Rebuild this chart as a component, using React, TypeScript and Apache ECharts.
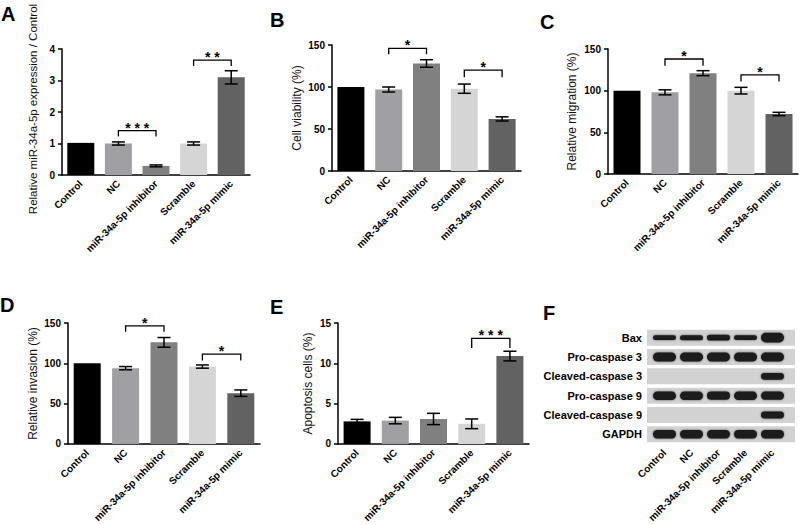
import React, { useEffect, useRef } from "react";
import * as echarts from "echarts";

const categories = ["Control", "NC", "miR-34a-5p inhibitor", "Scramble", "miR-34a-5p mimic"];
const barColors = ["#000000", "#a0a0a4", "#808080", "#d5d5d5", "#626262"];

const exprMean = [1.02, 1.0, 0.29, 1.0, 3.1];
const exprErr = [0, 0.05, 0.03, 0.05, 0.21];
const viabMean = [100, 97, 128, 98, 62];
const viabErr = [0, 3, 4.5, 5.5, 2.5];
const migrMean = [100, 98, 121, 100, 72];
const migrErr = [0, 3, 3, 4, 2];
const invMean = [100, 94, 126, 96, 63];
const invErr = [0, 2, 6, 2, 4];
const apopMean = [2.8, 2.9, 3.1, 2.5, 10.9];
const apopErr = [0.25, 0.4, 0.7, 0.6, 0.6];

// significance brackets: [fromIndex, toIndex, bracketTop, bracketEnd]
const exprSig = [[1, 2, 1.41, 1.22], [3, 4, 3.65, 3.46]];
const exprSigLabels = ["* * *", "* *"];
const viabSig = [[1, 2, 146, 139], [3, 4, 120, 111.5]];
const viabSigLabels = ["*", "*"];
const migrSig = [[1, 2, 138, 130], [3, 4, 119, 111]];
const migrSigLabels = ["*", "*"];
const invSig = [[1, 2, 146.5, 139], [3, 4, 111.5, 103.5]];
const invSigLabels = ["*", "*"];
const apopSig = [[3, 4, 13.1, 11.9]];
const apopSigLabels = ["* * *"];

// western blot
const proteins = ["Bax", "Pro-caspase 3", "Cleaved-caspase 3", "Pro-caspase 9", "Cleaved-caspase 9", "GAPDH"];
const bandBax = [0.35, 0.38, 0.45, 0.35, 0.95];
const bandProC3 = [0.9, 0.9, 0.88, 0.9, 0.88];
const bandCleC3 = [0, 0, 0, 0, 0.6];
const bandProC9 = [0.82, 0.82, 0.78, 0.82, 0.8];
const bandCleC9 = [0, 0, 0, 0, 0.62];
const bandGAPDH = [0.8, 0.8, 0.8, 0.8, 0.8];

const FONT = "Liberation Sans, Arial, sans-serif";

export default function App() {
  const ref = useRef<HTMLDivElement>(null);
  useEffect(() => {
    if (!ref.current) return;
    const chart = echarts.init(ref.current, null, { renderer: "svg" });

    const panels = [
      { letter: "A", lx: 1, ly: 4, grid: { left: 62, top: 49, width: 188, height: 126 }, min: 0, max: 4, interval: 1, name: "", nameGap: 23, mean: exprMean, err: exprErr, sig: exprSig, sigLabels: exprSigLabels },
      { letter: "B", lx: 270, ly: 10, grid: { left: 332, top: 45, width: 189, height: 126 }, min: 0, max: 150, interval: 50, name: "Cell viability (%)", nameGap: 29, mean: viabMean, err: viabErr, sig: viabSig, sigLabels: viabSigLabels },
      { letter: "C", lx: 540, ly: 12, grid: { left: 608, top: 49, width: 190, height: 125 }, min: 0, max: 150, interval: 50, name: "Relative migration (%)", nameGap: 30, mean: migrMean, err: migrErr, sig: migrSig, sigLabels: migrSigLabels },
      { letter: "D", lx: 0, ly: 295, grid: { left: 68, top: 323, width: 192, height: 125 }, min: 0, max: 150, interval: 50, name: "Relative invasion (%)", nameGap: 29, mean: invMean, err: invErr, sig: invSig, sigLabels: invSigLabels },
      { letter: "E", lx: 270, ly: 297, grid: { left: 338, top: 323, width: 191, height: 126 }, min: 0, max: 15, interval: 5, name: "Apoptosis cells (%)", nameGap: 24, mean: apopMean, err: apopErr, sig: apopSig, sigLabels: apopSigLabels },
    ];

    const grids: any[] = [];
    const xAxes: any[] = [];
    const yAxes: any[] = [];
    const series: any[] = [];
    const titles: any[] = [];

    panels.forEach((p, i) => {
      titles.push({ text: p.letter, left: p.lx, top: p.ly, padding: 0, textStyle: { fontSize: 20, fontWeight: "bold", color: "#000", fontFamily: FONT } });
      grids.push({ ...p.grid });
      xAxes.push({
        type: "category", gridIndex: i, data: categories,
        axisLine: { lineStyle: { color: "#000", width: 1.5 } },
        axisTick: { alignWithLabel: true, length: 4, lineStyle: { color: "#000", width: 1.5 } },
        axisLabel: { rotate: 45, margin: 7, color: "#000", fontSize: 10, fontWeight: "bold", fontFamily: FONT, interval: 0 },
      });
      yAxes.push({
        type: "value", gridIndex: i, min: p.min, max: p.max, interval: p.interval,
        name: p.name, nameLocation: "middle", nameGap: p.nameGap, nameMoveOverlap: false,
        nameTextStyle: { fontSize: 12, color: "#111", fontFamily: FONT },
        axisLine: { show: true, lineStyle: { color: "#000", width: 1.5 } },
        axisTick: { show: true, length: 4, lineStyle: { color: "#000", width: 1.5 } },
        axisLabel: { margin: 7, color: "#000", fontSize: 10, fontWeight: "bold", fontFamily: FONT },
        splitLine: { show: false },
      });
      series.push({
        type: "bar", xAxisIndex: i, yAxisIndex: i, barWidth: 27,
        data: p.mean.map((v, k) => ({ value: v, itemStyle: { color: barColors[k] } })),
      });
      series.push({
        type: "custom", xAxisIndex: i, yAxisIndex: i, z: 5,
        data: p.mean.map((v, k) => [k, v, p.err[k]]),
        encode: { x: 0, y: 1 },
        renderItem: (params: any, api: any) => {
          const x = api.value(0), m = api.value(1), e = api.value(2);
          if (!e) return null;
          const t = api.coord([x, m + e]);
          const b = api.coord([x, m - e]);
          const hw = 6.5;
          const st = { stroke: "#000", lineWidth: 1.5 };
          return {
            type: "group", children: [
              { type: "line", shape: { x1: t[0], y1: t[1], x2: b[0], y2: b[1] }, style: st },
              { type: "line", shape: { x1: t[0] - hw, y1: t[1], x2: t[0] + hw, y2: t[1] }, style: st },
              { type: "line", shape: { x1: b[0] - hw, y1: b[1], x2: b[0] + hw, y2: b[1] }, style: st },
            ],
          };
        },
      });
      series.push({
        type: "custom", xAxisIndex: i, yAxisIndex: i, z: 6,
        data: p.sig,
        encode: { x: [0, 1], y: [2, 3] },
        renderItem: (params: any, api: any) => {
          const f = api.value(0), to = api.value(1), top = api.value(2), end = api.value(3);
          const a = api.coord([f, top]);
          const b = api.coord([to, top]);
          const e = api.coord([f, end]);
          return {
            type: "group", children: [
              { type: "polyline", shape: { points: [[a[0], e[1]], [a[0], a[1]], [b[0], b[1]], [b[0], e[1]]] }, style: { stroke: "#000", lineWidth: 1.3, fill: null } },
              { type: "text", style: { text: p.sigLabels[params.dataIndex], x: (a[0] + b[0]) / 2, y: a[1] - 3, align: "center", verticalAlign: "middle", fontSize: 14, fontWeight: "bold", fontFamily: FONT, fill: "#000" } },
            ],
          };
        },
      });
    });

    // western blot panel F
    const fi = panels.length;
    titles.push({ text: "F", left: 543, top: 303, padding: 0, textStyle: { fontSize: 20, fontWeight: "bold", color: "#000", fontFamily: FONT } });
    grids.push({ left: 651, top: 328, width: 135, height: 118 });
    xAxes.push({
      type: "category", gridIndex: fi, data: categories,
      axisLine: { show: false }, axisTick: { show: false },
      axisLabel: { rotate: 45, margin: 7, color: "#000", fontSize: 10, fontWeight: "bold", fontFamily: FONT, interval: 0 },
    });
    yAxes.push({
      type: "category", gridIndex: fi, data: proteins, inverse: true,
      axisLine: { show: false }, axisTick: { show: false },
      axisLabel: { margin: 9, color: "#000", fontSize: 11, fontWeight: "bold", fontFamily: FONT, interval: 0 },
    });
    const bands = [bandBax, bandProC3, bandCleC3, bandProC9, bandCleC9, bandGAPDH];
    const blotData: number[][] = [];
    bands.forEach((row, r) => row.forEach((v, l) => blotData.push([l, r, v])));
    series.push({
      type: "custom", xAxisIndex: fi, yAxisIndex: fi,
      data: blotData,
      encode: { x: 0, y: 1 },
      renderItem: (params: any, api: any) => {
        const lane = api.value(0), row = api.value(1), v = api.value(2);
        const c = api.coord([lane, row]);
        const cs = params.coordSys;
        const children: any[] = [];
        if (lane === 0) {
          children.push({ type: "rect", shape: { x: cs.x - 4, y: c[1] - 8, width: cs.width + 13, height: 16 }, style: { fill: "#d2d2d2" } });
        }
        if (v > 0.02) {
          const h = 2 + v * 8;
          children.push({
            type: "rect", z2: 2,
            shape: { x: c[0] - 11.5, y: c[1] - h / 2, width: 23, height: h, r: h / 2 },
            style: { fill: "#1b1b1b", shadowBlur: 2, shadowColor: "rgba(0,0,0,0.6)" },
          });
        }
        return { type: "group", children };
      },
    });

    chart.setOption({
      animation: false,
      backgroundColor: "#fff",
      title: titles,
      grid: grids,
      xAxis: xAxes,
      yAxis: yAxes,
      series,
      graphic: [
        {
          type: "text", x: 33, y: 109, rotation: Math.PI / 2,
          style: { text: "Relative miR-34a-5p expression / Control", align: "center", verticalAlign: "middle", fontSize: 11.5, fill: "#111", fontFamily: FONT },
        },
      ],
    });
    return () => chart.dispose();
  }, []);
  return <div ref={ref} style={{ width: 800, height: 525, position: "absolute", left: 0, top: 0 }} />;
}
